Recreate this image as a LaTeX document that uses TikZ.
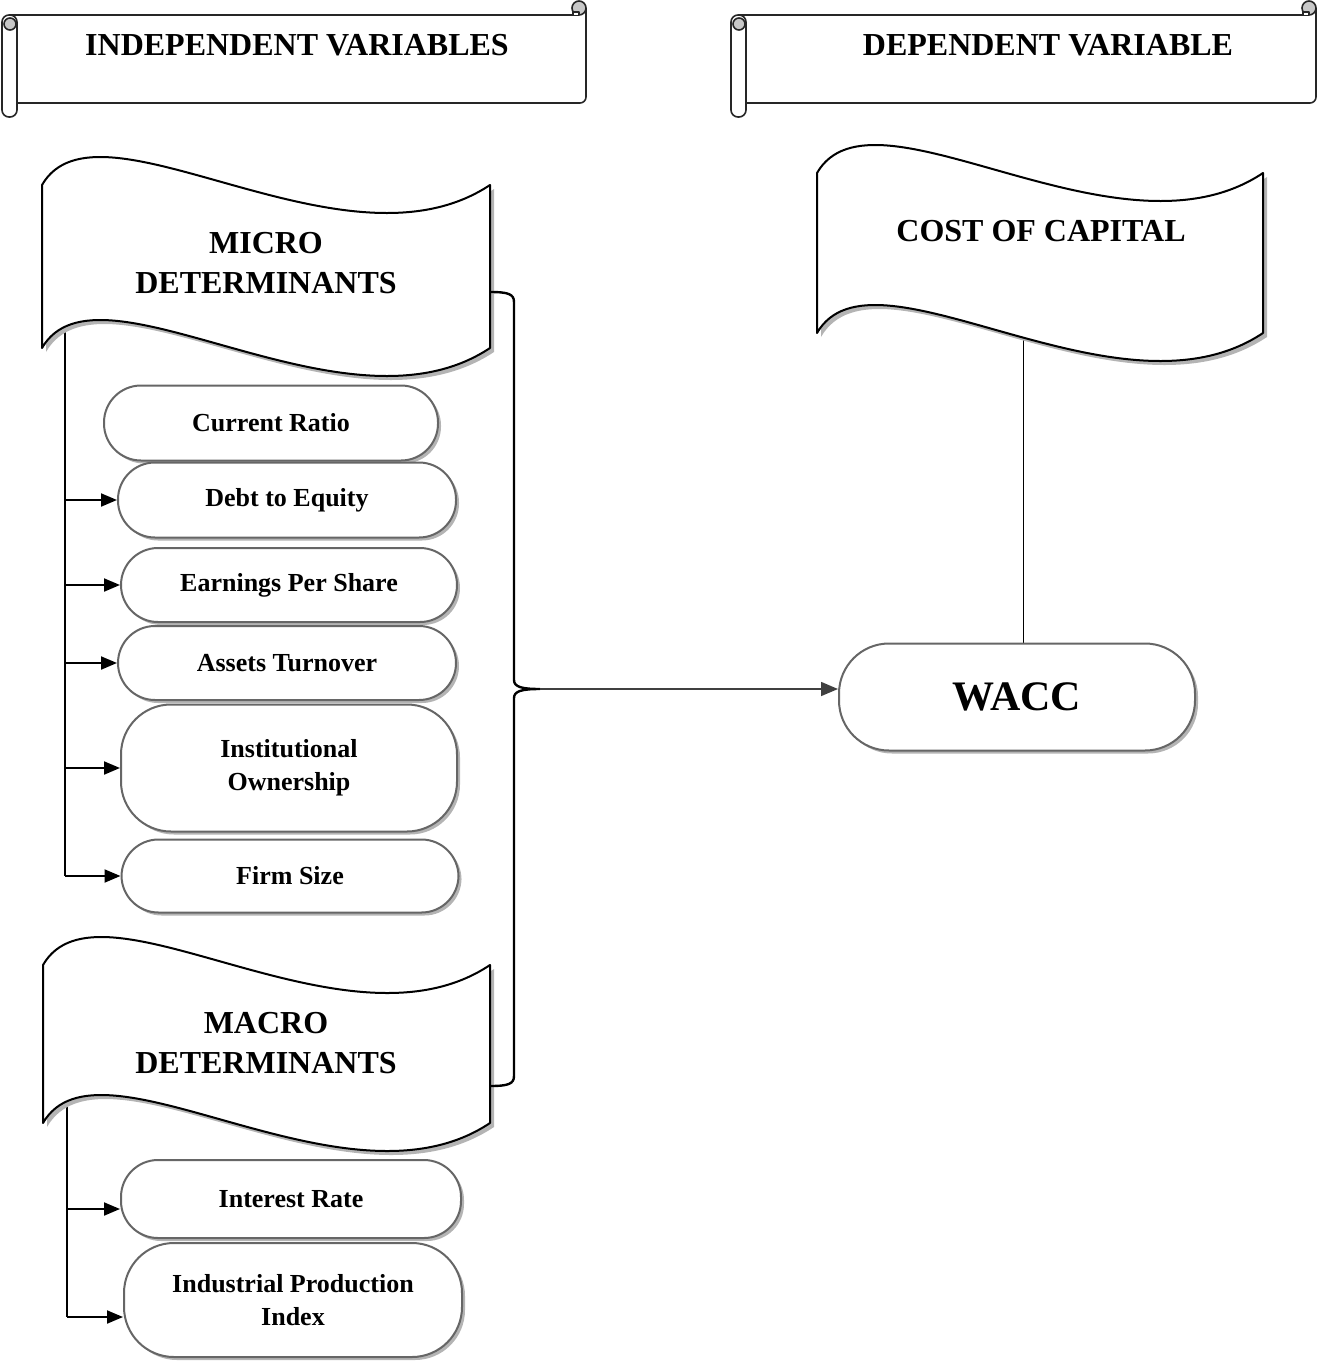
\documentclass[tikz,border=0pt]{standalone}
\usepackage{fontspec}
\setmainfont{Liberation Serif}
\usetikzlibrary{arrows.meta,shadows,backgrounds}

\definecolor{edgegray}{HTML}{666666}
\definecolor{shadegray}{HTML}{B4B4B4}
\definecolor{curlgray}{HTML}{C8C8C8}

\begin{document}
\begin{tikzpicture}[x=1pt, y=-1pt,
        scrl/.style={draw=black!85, line width=1.6pt, line join=round},
        headtext/.style={font=\fontsize{32}{38}\selectfont\bfseries, inner sep=0pt},
        banner/.style={draw, line width=2pt, fill=white, line join=round, drop shadow={shadow xshift=4pt, shadow yshift=-4pt, fill=shadegray, opacity=1}},
        bannertext/.style={font=\fontsize{32}{40}\selectfont\bfseries, align=center, inner sep=0pt},
        pill/.style={draw=edgegray, line width=2pt, fill=white, rounded corners=37pt, minimum height=75pt, inner sep=0pt, align=center, font=\fontsize{26}{33}\selectfont\bfseries, drop shadow={shadow xshift=3pt, shadow yshift=-3pt, fill=shadegray, opacity=1}},
        tallpill/.style={pill, rounded corners=50pt},
        arr/.style={-{Triangle[length=16pt,width=13pt]}, line width=2pt},
        trunk/.style={line width=1.2pt},
        brace/.style={line width=2.4pt, line join=round}
      ]
      \useasboundingbox (0,0) rectangle (1320,1363);

      % header scrolls
      \draw[scrl] (9,15) -- (579,15);
      \draw[scrl, rounded corners=6pt] (586,8) -- (586,103) -- (17,103);
      \draw[scrl, fill=curlgray] (579,8) circle[radius=7pt];
      \draw[scrl, fill=white] (573,15) -- (573,12) -- (579,12) -- (579,15);
      \draw[scrl, fill=white, rounded corners=7pt] (2,15) rectangle (17,117);
      \draw[scrl, fill=curlgray] (10,24) circle[radius=6pt];
      \node[headtext] (ivar) at (297,45) {INDEPENDENT VARIABLES};

      \draw[scrl] (738,15) -- (1309,15);
      \draw[scrl, rounded corners=6pt] (1316,8) -- (1316,103) -- (746,103);
      \draw[scrl, fill=curlgray] (1309,8) circle[radius=7pt];
      \draw[scrl, fill=white] (1303,15) -- (1303,12) -- (1309,12) -- (1309,15);
      \draw[scrl, fill=white, rounded corners=7pt] (731,15) rectangle (746,117);
      \draw[scrl, fill=curlgray] (739,24) circle[radius=6pt];
      \node[headtext] (dvar) at (1048,45) {DEPENDENT VARIABLE};

      % wave banners
      \draw[banner] (42,185) .. controls (98,88) and (344,282) .. (490,185) -- (490,348) .. controls (344,445) and (98,251) .. (42,348) -- cycle;
      \node[bannertext] (micro) at (266,263) {MICRO\\DETERMINANTS};
      \draw[banner] (43,965) .. controls (99,868) and (345,1062) .. (490,965) -- (490,1123) .. controls (345,1220) and (99,1026) .. (43,1123) -- cycle;
      \node[bannertext] (macro) at (266,1043) {MACRO\\DETERMINANTS};
      \draw[banner] (817,173) .. controls (873,76) and (1118,270) .. (1263,173) -- (1263,333) .. controls (1118,430) and (873,236) .. (817,333) -- cycle;
      \node[bannertext] (cost) at (1041,231) {COST OF CAPITAL};

      % determinants
      \node[pill, minimum width=334pt] (cr) at (271,423) {Current Ratio};
      \node[pill, minimum width=338pt] (dte) at (287,500) {Debt to Equity};
      \node[pill, minimum width=336pt, minimum height=74pt] (eps) at (289,585) {Earnings Per Share};
      \node[pill, minimum width=338pt, minimum height=74pt] (ato) at (287,663) {Assets Turnover};
      \node[tallpill, minimum width=336pt, minimum height=127pt] (ino) at (289,768) {Institutional\\Ownership};
      \node[pill, minimum width=337pt, minimum height=73pt] (fsz) at (290,876) {Firm Size};
      \node[pill, minimum width=340pt, minimum height=78pt] (ir) at (291,1199) {Interest Rate};
      \node[tallpill, minimum width=338pt, minimum height=114pt] (ipi) at (293,1300) {Industrial Production\\Index};
      \node[tallpill, minimum width=356pt, minimum height=107pt, font=\fontsize{42}{48}\selectfont\bfseries] (wacc) at (1017,697) {WACC};

      \coordinate (mtrunk) at (65,300);
      \coordinate (atrunk) at (67,1080);
      \coordinate (capfoot) at (1023,300);
      \coordinate (btip) at (540,689);
      \coordinate (irin) at ([yshift=-10pt]ir.west);
      \coordinate (ipin) at ([yshift=-17pt]ipi.west);

      \begin{pgfonlayer}{background}
        \draw[trunk] (mtrunk) -- (mtrunk |- fsz.west);
        \draw[trunk] (atrunk) -- (atrunk |- ipin);
        \draw[line width=1pt] (capfoot) -- (capfoot |- wacc.north);
      \end{pgfonlayer}

      \draw[arr] (mtrunk |- dte.west) -- (dte.west);
      \draw[arr] (mtrunk |- eps.west) -- (eps.west);
      \draw[arr] (mtrunk |- ato.west) -- (ato.west);
      \draw[arr] (mtrunk |- ino.west) -- (ino.west);
      \draw[arr] (mtrunk |- fsz.west) -- (fsz.west);
      \draw[arr] (atrunk |- irin) -- (irin);
      \draw[arr] (atrunk |- ipin) -- (ipin);

      % brace towards WACC
      \draw[brace] (490,292) .. controls (508,292) and (514,294) .. (514,302) -- (514,680) .. controls (514,687) and (522,689) .. (btip) .. controls (522,689) and (514,691) .. (514,698) -- (514,1076) .. controls (514,1084) and (508,1086) .. (490,1086);
      \draw[-{Triangle[length=17pt,width=14pt]}, line width=1.6pt, draw=black!75, fill=black] (btip) -- (btip -| wacc.west);
    \end{tikzpicture}
\end{document}
